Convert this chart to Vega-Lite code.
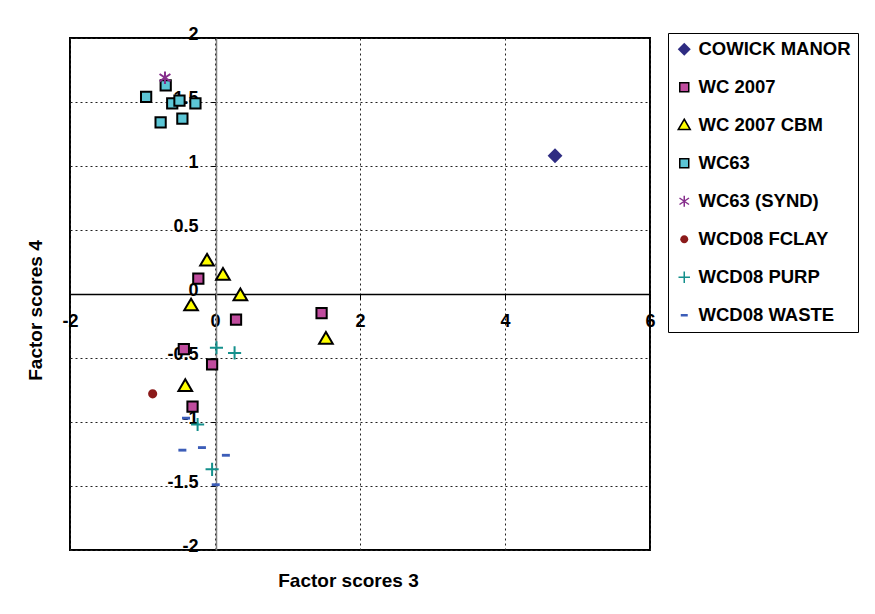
{
  "$schema": "https://vega.github.io/schema/vega-lite/v6.json",
  "width": 580,
  "height": 512,
  "autosize": {"type": "none"},
  "padding": {"left": 70, "top": 38, "right": 225, "bottom": 64},
  "background": "white",
  "data": {
    "values": [
      {"series": "COWICK MANOR", "x": 4.69, "y": 1.08},
      {"series": "WC 2007", "x": -0.23, "y": 0.12},
      {"series": "WC 2007", "x": 0.29, "y": -0.2},
      {"series": "WC 2007", "x": 1.47, "y": -0.15},
      {"series": "WC 2007", "x": -0.43, "y": -0.43},
      {"series": "WC 2007", "x": -0.04, "y": -0.55},
      {"series": "WC 2007", "x": -0.31, "y": -0.88},
      {"series": "WC 2007 CBM", "x": -0.11, "y": 0.26},
      {"series": "WC 2007 CBM", "x": 0.11, "y": 0.15},
      {"series": "WC 2007 CBM", "x": 0.35, "y": -0.01},
      {"series": "WC 2007 CBM", "x": -0.33, "y": -0.09},
      {"series": "WC 2007 CBM", "x": 1.53, "y": -0.35},
      {"series": "WC 2007 CBM", "x": -0.41, "y": -0.72},
      {"series": "WC63", "x": -0.95, "y": 1.54},
      {"series": "WC63", "x": -0.68, "y": 1.63},
      {"series": "WC63", "x": -0.59, "y": 1.49},
      {"series": "WC63", "x": -0.49, "y": 1.51},
      {"series": "WC63", "x": -0.27, "y": 1.49},
      {"series": "WC63", "x": -0.75, "y": 1.34},
      {"series": "WC63", "x": -0.45, "y": 1.37},
      {"series": "WC63 (SYND)", "x": -0.69, "y": 1.69},
      {"series": "WCD08 FCLAY", "x": -0.86, "y": -0.78},
      {"series": "WCD08 PURP", "x": 0.02, "y": -0.42},
      {"series": "WCD08 PURP", "x": 0.27, "y": -0.46},
      {"series": "WCD08 PURP", "x": -0.24, "y": -1.02},
      {"series": "WCD08 PURP", "x": -0.04, "y": -1.37},
      {"series": "WCD08 WASTE", "x": -0.4, "y": -0.97},
      {"series": "WCD08 WASTE", "x": -0.45, "y": -1.22},
      {"series": "WCD08 WASTE", "x": -0.18, "y": -1.2},
      {"series": "WCD08 WASTE", "x": 0.15, "y": -1.26},
      {"series": "WCD08 WASTE", "x": 0.01, "y": -1.49}
    ]
  },
  "mark": {"type": "point", "filled": true, "size": 130, "strokeWidth": 2, "opacity": 1},
  "encoding": {
    "x": {
      "field": "x", "type": "quantitative",
      "scale": {"domain": [-2, 6], "nice": false, "zero": false},
      "axis": {
        "orient": "bottom", "offset": -256, "values": [-2, 0, 2, 4, 6],
        "title": "Factor scores 3", "titleX": 278, "titleY": 286,
        "titleAlign": "center", "titleBaseline": "middle",
        "domainColor": "#000000", "domainWidth": 1.5,
        "format": "~g", "labelExpr": "replace(datum.label, '\u2212', '-')"
      }
    },
    "y": {
      "field": "y", "type": "quantitative",
      "scale": {"domain": [-2, 2], "nice": false, "zero": false},
      "axis": {
        "orient": "left", "offset": -146, "values": [-2, -1.5, -1, -0.5, 0, 0.5, 1, 1.5, 2],
        "title": "Factor scores 4", "titleX": -181, "titleY": 272, "titleAngle": -90,
        "titleAlign": "center", "titleBaseline": "middle",
        "domainColor": "#808080", "domainWidth": 1.5,
        "labelBaseline": "alphabetic", "labelOffset": 1,
        "format": "~g", "labelExpr": "replace(datum.label, '\u2212', '-')"
      }
    },
    "fill": {
      "field": "series", "type": "nominal", "title": null,
      "scale": {
        "domain": ["COWICK MANOR", "WC 2007", "WC 2007 CBM", "WC63", "WC63 (SYND)", "WCD08 FCLAY", "WCD08 PURP", "WCD08 WASTE"],
        "range": ["#2E2C82", "#C04C9E", "#FFFF00", "#5CC6D6", "#862E8C", "#8B1A1A", "#14908C", "#3C5DB8"]
      }
    },
    "stroke": {
      "field": "series", "type": "nominal", "title": null,
      "scale": {
        "domain": ["COWICK MANOR", "WC 2007", "WC 2007 CBM", "WC63", "WC63 (SYND)", "WCD08 FCLAY", "WCD08 PURP", "WCD08 WASTE"],
        "range": ["transparent", "#000000", "#000000", "#000000", "#862E8C", "transparent", "#14908C", "transparent"]
      }
    },
    "shape": {
      "field": "series", "type": "nominal", "title": null,
      "scale": {
        "domain": ["COWICK MANOR", "WC 2007", "WC 2007 CBM", "WC63", "WC63 (SYND)", "WCD08 FCLAY", "WCD08 PURP", "WCD08 WASTE"],
        "range": [
          "M0,-1.3L1.3,0L0,1.3L-1.3,0Z",
          "M-0.9,-0.9L0.9,-0.9L0.9,0.9L-0.9,0.9Z",
          "M0,-1.2L1.2,0.85L-1.2,0.85Z",
          "M-0.9,-0.9L0.9,-0.9L0.9,0.9L-0.9,0.9Z",
          "M0,-1.1L0,1.1M-0.95,-0.65L0.95,0.65M-0.95,0.65L0.95,-0.65",
          "M0.8,0A0.8,0.8 0 1,1 -0.8,0A0.8,0.8 0 1,1 0.8,0Z",
          "M-1.15,0L1.15,0M0,-1.15L0,1.15",
          "M-0.7,-0.25L0.7,-0.25L0.7,0.25L-0.7,0.25Z"
        ]
      }
    }
  },
  "config": {
    "font": "Liberation Sans",
    "view": {"stroke": "#000000", "strokeWidth": 2},
    "axis": {
      "grid": true, "gridColor": "#222222", "gridDash": [2, 3], "gridWidth": 1,
      "labelFont": "Liberation Sans", "labelFontSize": 18, "labelFontWeight": "bold", "labelColor": "#000000",
      "titleFont": "Liberation Sans", "titleFontSize": 19, "titleFontWeight": "bold", "titleColor": "#000000",
      "tickSize": 5, "tickColor": "#000000", "labelPadding": 13,
      "labelFlush": false, "labelOverlap": false, "labelBound": false
    },
    "legend": {
      "orient": "none", "legendX": 598, "legendY": -5,
      "strokeColor": "#000000", "strokeWidth": 1, "fillColor": "#ffffff",
      "padding": 7, "rowPadding": 19, "labelOffset": 5,
      "labelFont": "Liberation Sans", "labelFontSize": 18.5, "labelFontWeight": "bold", "labelColor": "#000000",
      "labelLimit": 300, "symbolSize": 100, "symbolStrokeWidth": 1.5
    }
  }
}
